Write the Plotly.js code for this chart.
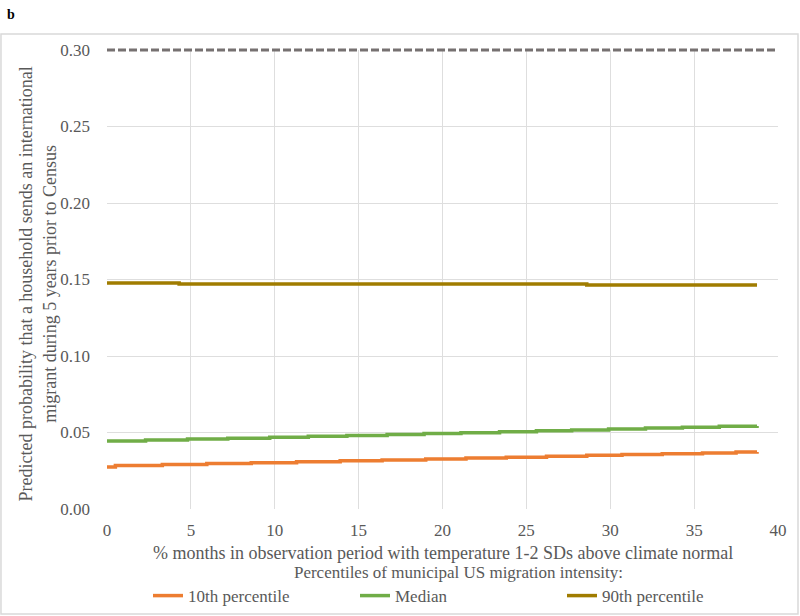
<!DOCTYPE html>
<html>
<head>
<meta charset="utf-8">
<script src="https://cdn.plot.ly/plotly-3.0.1.min.js"></script>
<style>html,body{margin:0;padding:0;background:#fff}#chart{width:800px;height:616px}</style>
</head>
<body>
<div id="chart"></div>
<script>
// Data (step-like predicted probabilities)
const seriesNames = ["10th percentile", "Median", "90th percentile"];
const seriesColors = ["#ED7D31", "#70AD47", "#A07C00"];

const p10X = [0, 0.5, 3.3, 5.95, 8.6, 11.3, 13.9, 16.4, 19.0, 21.4, 23.8, 26.2, 28.6, 30.7, 33.1, 35.5, 37.5, 38.75];
const p10Y = [0.0275, 0.0285, 0.0291, 0.0297, 0.0303, 0.0309, 0.0315, 0.0321, 0.0327, 0.0333, 0.0339, 0.0345, 0.0351, 0.0356, 0.0361, 0.0366, 0.0372, 0.0373];

const medX = [0, 2.3, 4.8, 7.2, 9.7, 12.0, 14.3, 16.7, 18.9, 21.1, 23.4, 25.6, 27.7, 29.9, 32.1, 34.3, 36.5, 38.75];
const medY = [0.0444, 0.0451, 0.0457, 0.0463, 0.0469, 0.0475, 0.0481, 0.0487, 0.0493, 0.0499, 0.0505, 0.0511, 0.0517, 0.0523, 0.0529, 0.0535, 0.0541, 0.0542];

const p90X = [0, 4.3, 28.6, 38.75];
const p90Y = [0.1477, 0.1471, 0.1464, 0.1464];

// dashed reference level at the top of the chart
const referenceLevel = 0.30;

const xRange = [0, 40];
const yRange = [0, 0.30];
const xTickVals = [0, 5, 10, 15, 20, 25, 30, 35, 40];
const yTickVals = [0.00, 0.05, 0.10, 0.15, 0.20, 0.25, 0.30];
const yTickText = ["0.00", "0.05", "0.10", "0.15", "0.20", "0.25", "0.30"];

const xTitle = "% months in observation period with temperature 1-2 SDs above climate normal";
const yTitle = "Predicted probability that a household sends an international<br>migrant during 5 years prior to Census";
const legendTitle = "Percentiles of municipal US migration intensity:";

const FONT = "Liberation Serif, Times New Roman, serif";
const GRAY = "#595959";
const FS = 18;

const xs = [p10X, medX, p90X];
const ys = [p10Y, medY, p90Y];
const traces = seriesNames.map((n, i) => ({
  type: "scatter", mode: "lines", name: n,
  x: xs[i], y: ys[i],
  line: {color: seriesColors[i], width: 3.5, shape: "hv"}
}));

const refFrac = (referenceLevel - yRange[0]) / (yRange[1] - yRange[0]);

const layout = {
  width: 800, height: 616,
  margin: {l: 107, r: 22, t: 50, b: 107, autoexpand: false},
  paper_bgcolor: "#fff", plot_bgcolor: "#fff",
  font: {family: FONT, color: GRAY, size: FS},
  showlegend: true,
  xaxis: {
    range: xRange, tickvals: xTickVals, ticks: "", ticklabelstandoff: 9,
    showgrid: true, gridcolor: "#dedede", gridwidth: 1,
    zeroline: false, showline: false,
    tickfont: {size: 17, color: GRAY, family: FONT}
  },
  yaxis: {
    range: yRange, tickvals: yTickVals, ticktext: yTickText, ticks: "", ticklabelstandoff: 16,
    showgrid: true, gridcolor: "#dedede", gridwidth: 1,
    zeroline: false, showline: false,
    tickfont: {size: 17, color: GRAY, family: FONT}
  },
  legend: {
    orientation: "h", xref: "container", x: 0.185, xanchor: "left",
    yref: "container", y: 0.0975, yanchor: "top",
    bgcolor: "rgba(0,0,0,0)",
    font: {size: 17, color: GRAY, family: FONT},
    entrywidth: 162, entrywidthmode: "pixels",
    itemwidth: 30, tracegroupgap: 0,
    title: {text: legendTitle, side: "top center",
            font: {size: 17, color: GRAY, family: FONT}}
  },
  shapes: [
    {type: "line", xref: "paper", x0: 0, x1: 1, yref: "paper", y0: refFrac, y1: refFrac,
     line: {color: "#767171", width: 3, dash: "8px,3px"}},
    {type: "rect", xref: "paper", yref: "paper", x0: -0.158, x1: 1.0298, y0: -0.2288, y1: 1.0349,
     line: {color: "#d9d9d9", width: 1.5}, layer: "below"}
  ],
  annotations: [
    {text: "<b>b</b>", xref: "paper", yref: "paper", x: -0.152, y: 1.078, xanchor: "left", yanchor: "middle",
     showarrow: false, font: {size: 14, color: "#000", family: FONT}},
    {text: yTitle, xref: "paper", yref: "paper", x: -0.1036, y: 0.49, xanchor: "center", yanchor: "middle",
     textangle: -90, showarrow: false, font: {size: FS, color: GRAY, family: FONT}},
    {text: xTitle, xref: "paper", yref: "paper", x: 0.5, y: -0.096, xanchor: "center", yanchor: "middle",
     showarrow: false, font: {size: FS, color: GRAY, family: FONT}}
  ]
};

Plotly.newPlot("chart", traces, layout, {displayModeBar: false, staticPlot: true});
</script>
</body>
</html>
